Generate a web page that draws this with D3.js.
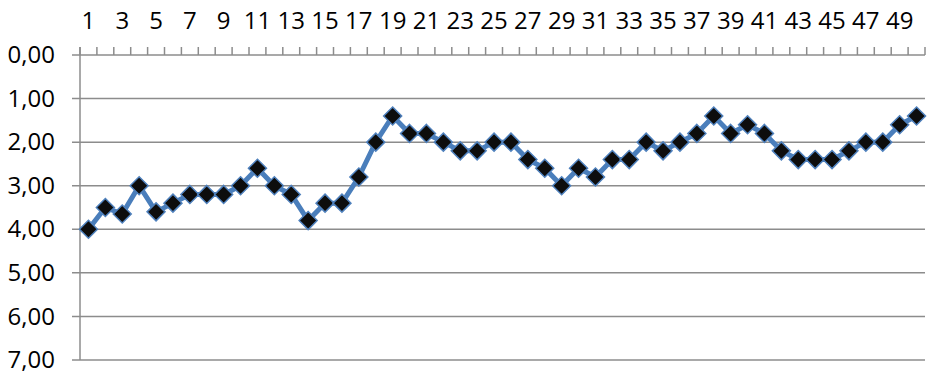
<!DOCTYPE html>
<html><head><meta charset="utf-8">
<script src="https://cdn.jsdelivr.net/npm/d3@7"></script>
<style>body{margin:0;background:#fff}svg{display:block}</style>
</head><body>
<svg id="c" width="932" height="375"></svg>
<script>
const categories = d3.range(1, 51);
const values = [4.0,3.5,3.65,3.0,3.6,3.4,3.2,3.2,3.2,3.0,
                2.6,3.0,3.2,3.8,3.4,3.4,2.8,2.0,1.4,1.8,
                1.8,2.0,2.2,2.2,2.0,2.0,2.4,2.6,3.0,2.6,
                2.8,2.4,2.4,2.0,2.2,2.0,1.8,1.4,1.8,1.6,
                1.8,2.2,2.4,2.4,2.4,2.2,2.0,2.0,1.6,1.4];
const yTicks = [0,1,2,3,4,5,6,7];
const xLabels = categories.filter(d => d % 2 === 1);

const svg = d3.select("#c");
const mL = 80, mR = 925, mT = 55, mB = 360;
const x = d3.scaleBand().domain(categories).range([mL, mR]);
const y = d3.scaleLinear().domain([0, 7]).range([mT, mB]);
const font = "'Open Sans', sans-serif";
const fs = 24;
const fmt = v => v.toFixed(2).replace(".", ",");

// gridlines + y ticks
svg.append("g").selectAll("line").data(yTicks).join("line")
  .attr("x1", mL - 8).attr("x2", mR)
  .attr("y1", d => y(d)).attr("y2", d => y(d))
  .attr("stroke", "#8c8c8c").attr("stroke-width", 1.5);

// y labels
svg.append("g").selectAll("text").data(yTicks).join("text")
  .attr("x", 55).attr("y", d => y(d)).attr("dy", "0.34em")
  .attr("text-anchor", "end").attr("font-family", font).attr("font-size", fs)
  .attr("fill", "#000").text(fmt);

// y axis line
svg.append("line").attr("x1", mL).attr("x2", mL).attr("y1", mT - 8).attr("y2", mB)
  .attr("stroke", "#8c8c8c").attr("stroke-width", 1.5);

// x ticks (between categories)
const tickPos = categories.map(c => x(c) + x.bandwidth()).concat([mL]);
svg.append("g").selectAll("line").data(tickPos).join("line")
  .attr("x1", d => d).attr("x2", d => d).attr("y1", mT - 8).attr("y2", mT)
  .attr("stroke", "#8c8c8c").attr("stroke-width", 1.5);

// x labels
svg.append("g").selectAll("text").data(xLabels).join("text")
  .attr("x", d => x(d) + x.bandwidth() / 2).attr("y", 29)
  .attr("text-anchor", "middle").attr("font-family", font).attr("font-size", fs)
  .attr("fill", "#000").text(d => d);

// line
const cx = (d, i) => x(categories[i]) + x.bandwidth() / 2;
svg.append("path").datum(values)
  .attr("d", d3.line().x(cx).y(d => y(d)))
  .attr("fill", "none").attr("stroke", "#4a7ebb").attr("stroke-width", 5)
  .attr("stroke-linejoin", "round");

// markers
const r = 9;
const diamond = `M0,${-r}L${r},0L0,${r}L${-r},0Z`;
svg.append("g").selectAll("path").data(values).join("path")
  .attr("transform", (d, i) => `translate(${cx(d, i)},${y(d)})`)
  .attr("d", diamond)
  .attr("fill", "#0d0d0d").attr("stroke", "#4f81bd").attr("stroke-width", 1.5);
</script>
</body></html>
